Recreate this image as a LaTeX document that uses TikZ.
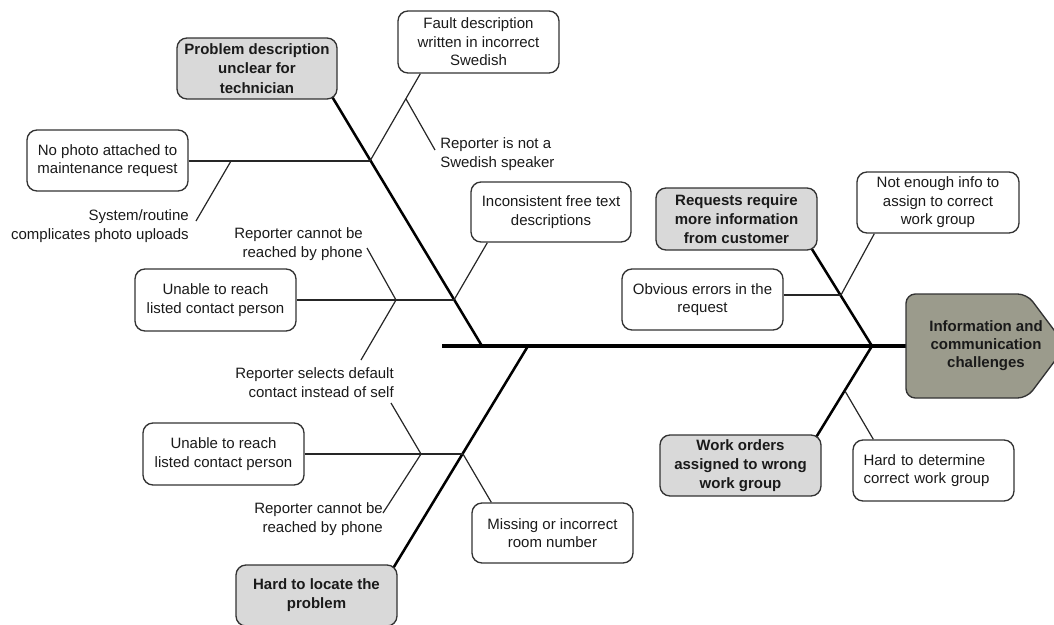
\documentclass[tikz,border=0pt]{standalone}
\usepackage{fontspec}
\setmainfont{Liberation Sans}
\usetikzlibrary{calc}
\pgfdeclarelayer{background}
\pgfsetlayers{background,main}
\definecolor{causegray}{HTML}{D9D9D9}
\definecolor{headgray}{HTML}{9B9B8C}
\definecolor{ink}{HTML}{1A1A1A}
\definecolor{edgegray}{HTML}{333333}

\tikzset{
  txt/.style={font=\fontsize{11.25}{13.8}\selectfont, text=ink},
  boldtxt/.style={font=\fontsize{11.25}{14.4}\selectfont\bfseries, text=ink},
  boxbase/.style={draw=edgegray, line width=1pt, rounded corners=7.5pt,
    align=center, inner sep=0pt, minimum width=120.75pt, minimum height=45.75pt},
  cause/.style={boxbase, boldtxt, fill=causegray},
  subcause/.style={boxbase, txt, fill=white},
  lblL/.style={txt, inner sep=0pt, align=left, anchor=west},
  lblR/.style={txt, inner sep=0pt, align=right, anchor=east},
  headtext/.style={font=\fontsize{11.25}{13.5}\selectfont\bfseries, text=ink,
    align=center, inner sep=0pt},
  spine/.style={line width=2.3pt, draw=black},
  bone/.style={line width=1.9pt, draw=black},
  twig/.style={line width=0.9pt, draw=black!85},
}

\begin{document}
\begin{tikzpicture}[x=0.75pt, y=-0.75pt]
\clip (0,0) rectangle (1054,625);

% head of the fish
\draw[draw=edgegray, fill=headgray, line width=1pt, rounded corners=7pt]
  (1066,346) -- (1027,294) -- (906,294) -- (906,398) -- (1027,398) -- cycle;
\node[headtext] (Head) at (986,346) {Information and\\communication\\challenges};
\coordinate (headW) at (906,346);
\coordinate (spineL) at (442,346);

% main causes
\node[cause, minimum width=120pt] (P1) at (257,68.5) {Problem description\\unclear for\\technician};
\node[cause] (P2) at (316.5,595.5) {Hard to locate the\\problem};
\node[cause, minimum height=46.5pt] (P3) at (736.5,219) {Requests require\\more information\\from customer};
\node[cause] (P4) at (740.5,465.5) {Work orders\\assigned to wrong\\work group};

% sub-causes
\node[subcause, minimum height=46.5pt] (A1) at (478.5,42) {Fault description\\written in incorrect\\Swedish};
\node[subcause] (A2) at (107.5,160.5) {No photo attached to\\maintenance request};
\node[subcause, minimum width=120pt, minimum height=45pt] (A3) at (551,212) {Inconsistent free text\\descriptions};
\node[subcause, minimum height=46.5pt] (A4) at (215.5,300) {Unable to reach\\listed contact person};
\node[subcause, minimum height=46.5pt] (A5) at (223.5,454) {Unable to reach\\listed contact person};
\node[subcause, minimum height=45pt] (A6) at (552.5,533) {Missing or incorrect\\room number};
\node[subcause] (A7) at (702.5,299.5) {Obvious errors in the\\request};
\node[subcause, minimum width=121.5pt] (A8) at (938,202.5) {Not enough info to\\assign to correct\\work group};
\node[subcause, align=left, text width=105pt] (A9) at (933.5,470.5) {Hard to determine\\correct work group};

% free labels
\node[lblL] (L1) at (440,154) {Reporter is not a\\Swedish speaker};
\node[lblR] (L2) at (189,226) {System/routine\\complicates photo uploads};
\node[lblR] (L3) at (363,244) {Reporter cannot be\\reached by phone};
\node[lblR] (L4) at (394,382.5) {Reporter selects default\\contact instead of self};
\node[lblR] (L5) at (383,519) {Reporter cannot be\\reached by phone};

% junctions on the bones
\coordinate (j1) at (482,346);
\coordinate (j2) at (528,346);
\coordinate (j3) at (872,346);
\coordinate (b1a) at (370,161);
\coordinate (b1b) at (454,300);
\coordinate (b2a) at (463,454);
\coordinate (b3a) at (841,295);
\coordinate (b4a) at (845,391);
\coordinate (s0) at (231,161);
\coordinate (t0) at (196,221);
\coordinate (s1) at (406,99);
\coordinate (t1) at (435,150);
\coordinate (s2) at (396,300);
\coordinate (t2a) at (367,248);
\coordinate (t2b) at (361,360);
\coordinate (s3) at (421,454);
\coordinate (t3a) at (391,403);
\coordinate (t3b) at (383,513);

\begin{pgfonlayer}{background}
  % spine
  \draw[spine] (spineL) -- (headW);
  % main bones
  \draw[bone] (j1) -- ($(P1.south east)+(-5,-2)$);
  \draw[bone] (j2) -- ($(P2.north east)+(-4,3)$);
  \draw[bone] (j3) -- ($(P3.south east)+(-6,-2)$);
  \draw[bone] (j3) -- ($(P4.north east)+(-5,2)$);
  % branches of "Problem description unclear"
  \draw[twig] (A2.east |- b1a) -- (b1a);
  \draw[twig] (s0) -- (t0);
  \draw[twig] (b1a) -- ($(A1.south west)+(23,0)$);
  \draw[twig] (s1) -- (t1);
  \draw[twig] (A4.east |- b1b) -- (b1b);
  \draw[twig] (b1b) -- ($(A3.south west)+(17,0)$);
  \draw[twig] (t2a) -- (s2) -- (t2b);
  % branches of "Hard to locate the problem"
  \draw[twig] (A5.east |- b2a) -- (b2a);
  \draw[twig] (b2a) -- ($(A6.north west)+(20,0)$);
  \draw[twig] (t3a) -- (s3) -- (t3b);
  % branches of "Requests require more information"
  \draw[twig] (A7.east |- b3a) -- (b3a);
  \draw[twig] (b3a) -- ($(A8.south west)+(18,0)$);
  % branch of "Work orders assigned to wrong work group"
  \draw[twig] (b4a) -- ($(A9.north west)+(21,0)$);
\end{pgfonlayer}
\end{tikzpicture}
\end{document}
